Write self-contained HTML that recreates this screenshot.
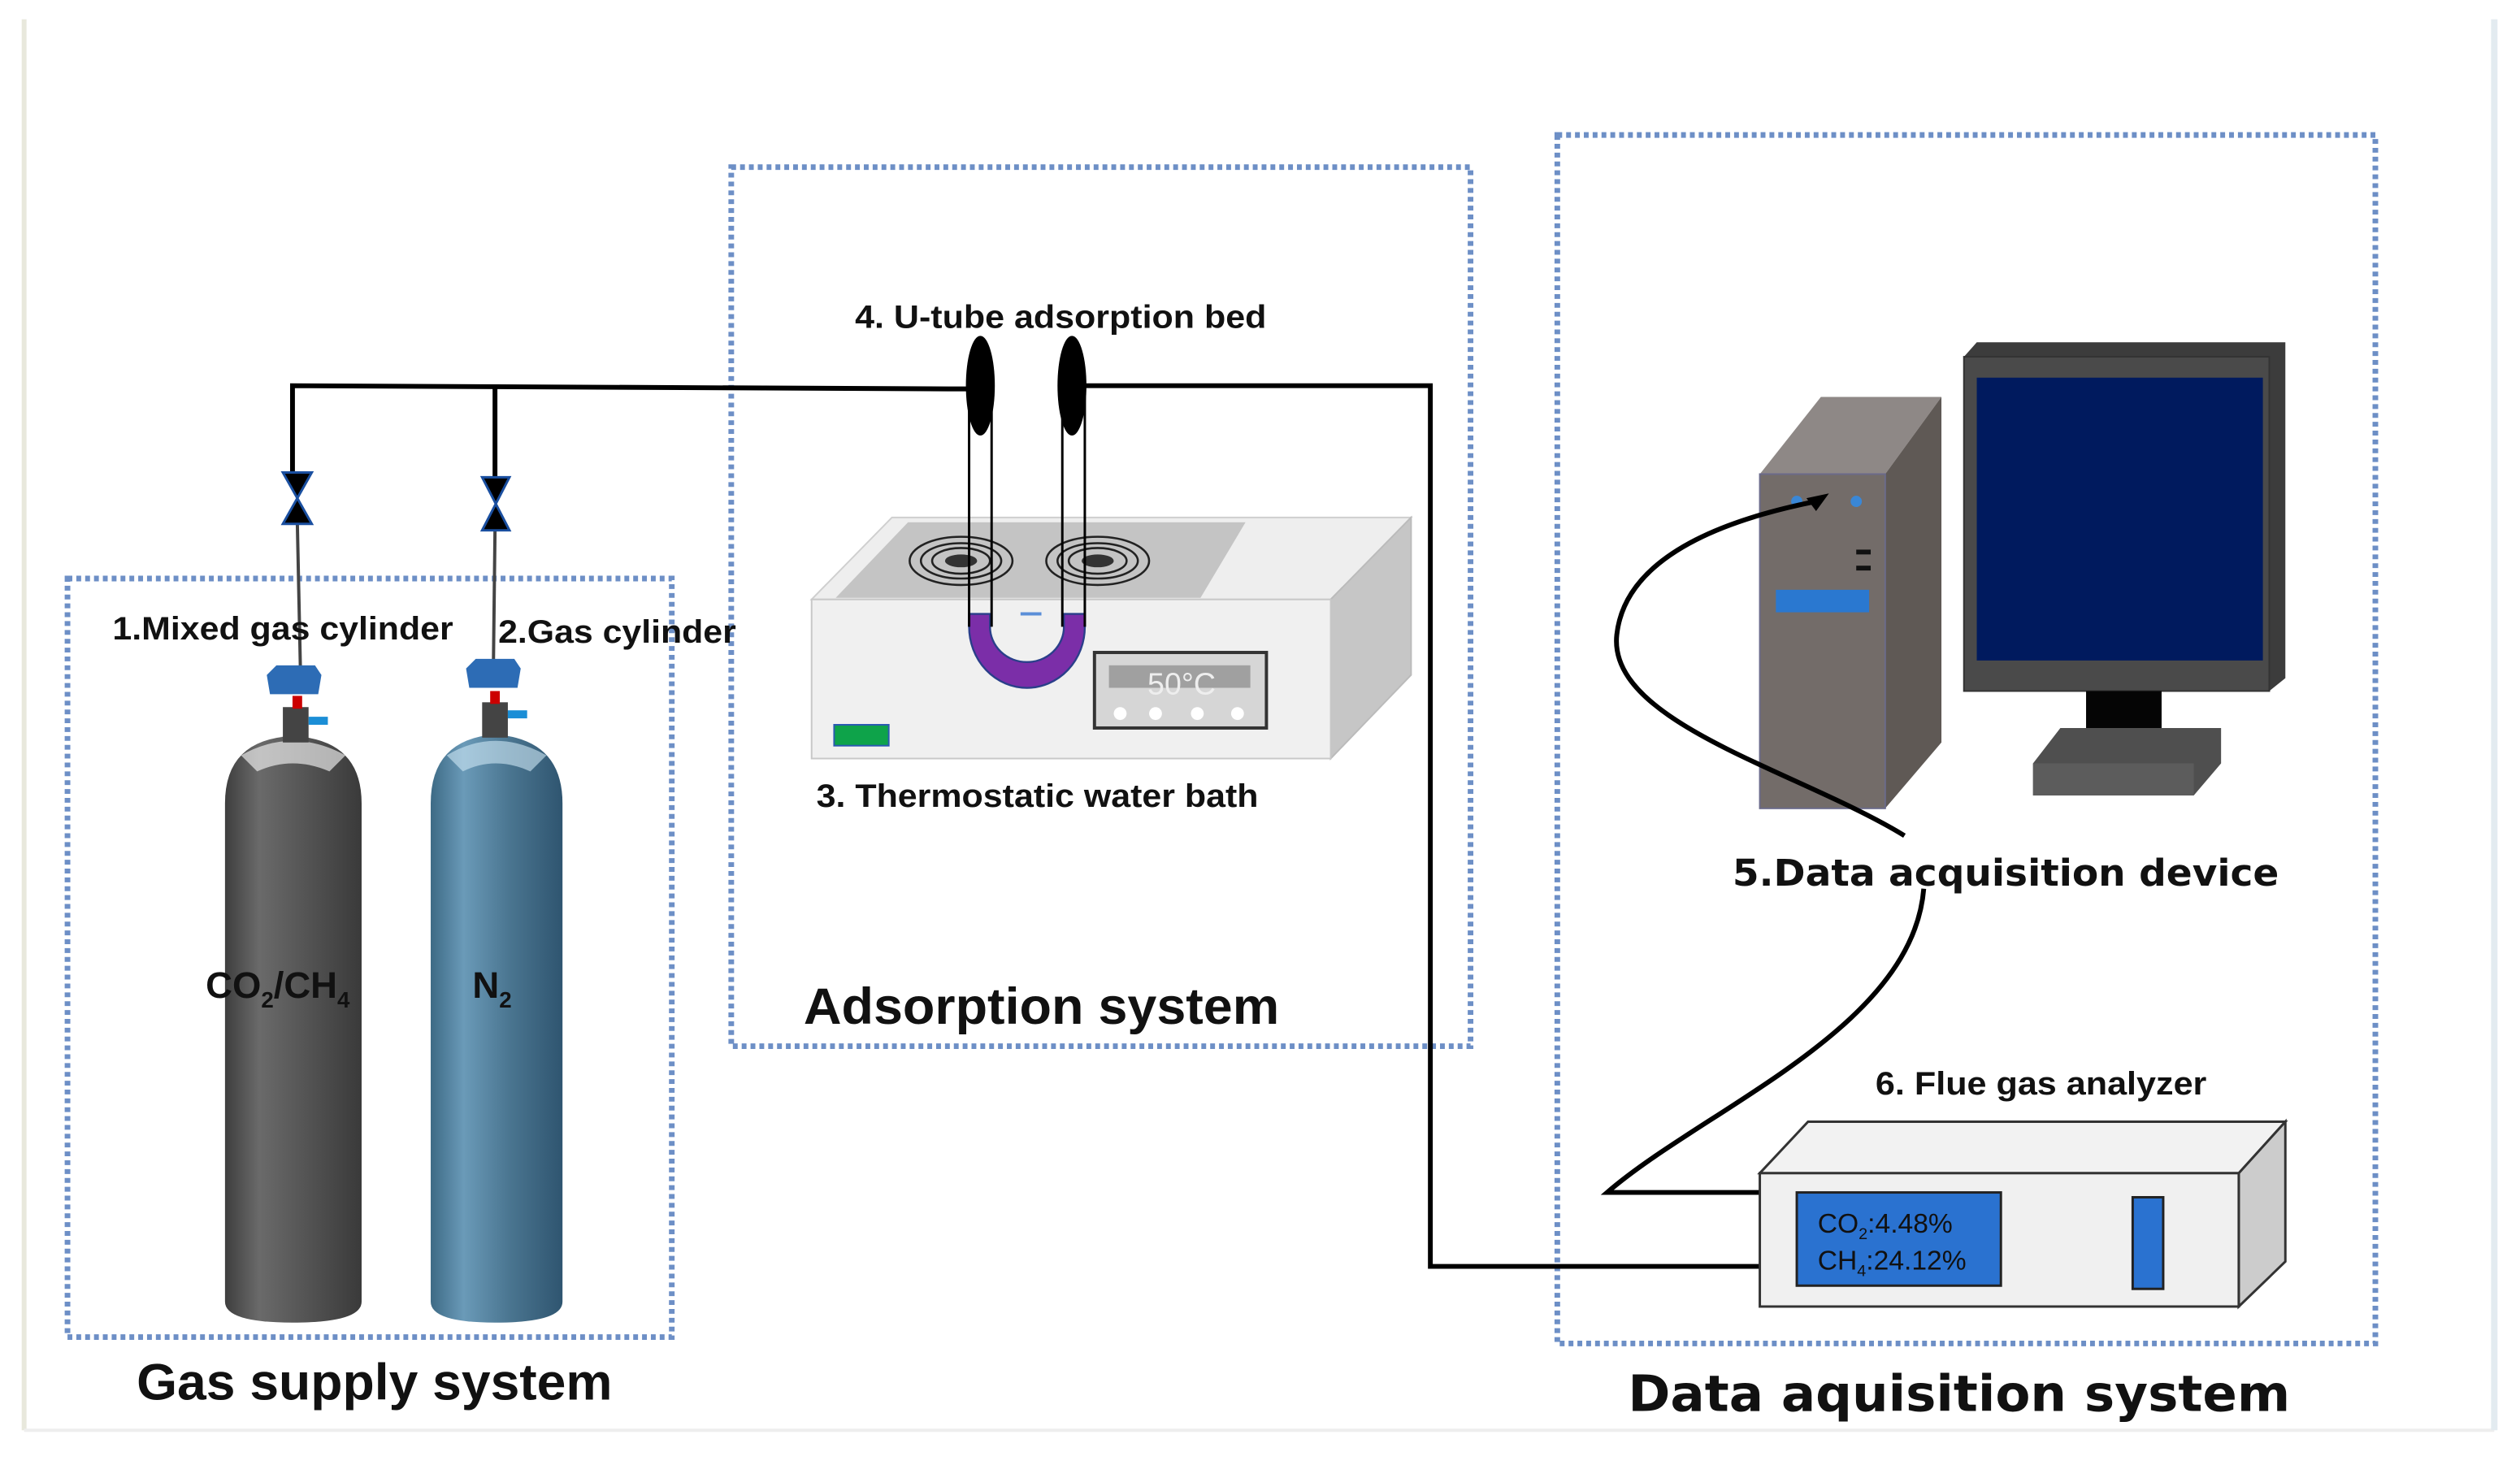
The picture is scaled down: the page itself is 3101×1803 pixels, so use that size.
<!DOCTYPE html>
<html><head><meta charset="utf-8"><style>
html,body{margin:0;padding:0;background:#fff;width:3101px;height:1803px;overflow:hidden}
svg{display:block}
text{font-family:"Liberation Sans",sans-serif;font-weight:bold;fill:#111}
.dj{font-family:"DejaVu Sans","Liberation Sans",sans-serif}
</style></head><body>
<svg width="3101" height="1803" viewBox="0 0 1568 911.6" preserveAspectRatio="none" xmlns="http://www.w3.org/2000/svg">
<defs>
<linearGradient id="g1" x1="0" x2="1" y1="0" y2="0">
<stop offset="0" stop-color="#3e3e3e"/><stop offset="0.25" stop-color="#6a6a6a"/><stop offset="0.5" stop-color="#5a5a5a"/><stop offset="1" stop-color="#3a3a3a"/></linearGradient>
<linearGradient id="g2" x1="0" x2="1" y1="0" y2="0">
<stop offset="0" stop-color="#3d6a85"/><stop offset="0.25" stop-color="#6a9ab8"/><stop offset="0.6" stop-color="#4a7590"/><stop offset="1" stop-color="#2f5570"/></linearGradient>
</defs>
<rect width="1568" height="912" fill="#fff"/>
<line x1="15" y1="12" x2="15" y2="890" stroke="#e8e8dc" stroke-width="3"/>
<line x1="15" y1="890" x2="1552" y2="890" stroke="#eeeeee" stroke-width="2"/>
<line x1="1552" y1="12" x2="1552" y2="890" stroke="#e3ebf0" stroke-width="4"/>
<g fill="none" stroke="#6d8fc6" stroke-width="3.5" stroke-dasharray="3 2.5">
<rect x="42" y="360" width="376" height="472"/>
<rect x="455" y="104" width="460" height="547"/>
<rect x="969" y="84" width="509" height="752"/>
</g>
<g fill="none" stroke="#000" stroke-width="3">
<polyline points="182,298 182,240 590,242 606,242"/>
<line x1="308" y1="298" x2="308" y2="240"/>
<polyline points="672,240 890,240 890,788 1095,788"/>
</g>
<line x1="185" y1="325" x2="187" y2="420" stroke="#444" stroke-width="2"/>
<line x1="308" y1="330" x2="307" y2="415" stroke="#444" stroke-width="2"/>
<g fill="#000" stroke="#1a4fa0" stroke-width="1.5">
<polygon points="176,294 194,294 176,326 194,326"/>
<polygon points="300,297 317,297 300,330 317,330"/>
</g>
<path d="M140,500 Q140,460 182,458 Q225,460 225,500 L225,810 Q225,823 182,823 Q140,823 140,810Z" fill="url(#g1)"/>
<path d="M150,470 Q182,452 215,470 L205,480 Q182,470 160,480Z" fill="#fff" opacity="0.6"/>
<path d="M268,500 Q268,460 308,457 Q350,460 350,500 L350,810 Q350,823 308,823 Q268,823 268,810Z" fill="url(#g2)"/>
<path d="M278,470 Q308,452 340,470 L330,480 Q308,470 288,480Z" fill="#cfe8f5" opacity="0.6"/>
<g>
<rect x="176" y="440" width="16" height="22" fill="#444"/><rect x="192" y="446" width="12" height="5" fill="#1b8ed6"/>
<rect x="182" y="433" width="6" height="8" fill="#c00"/>
<path d="M166,420 L172,414 L196,414 L200,420 L198,432 L168,432Z" fill="#2d6cb5"/>
<rect x="300" y="437" width="16" height="22" fill="#444"/><rect x="316" y="442" width="12" height="5" fill="#1b8ed6"/>
<rect x="305" y="430" width="6" height="8" fill="#c00"/>
<path d="M290,416 L296,410 L320,410 L324,416 L322,428 L292,428Z" fill="#2d6cb5"/>
</g>
<text x="70" y="398" font-size="20" textLength="212" lengthAdjust="spacingAndGlyphs">1.Mixed gas cylinder</text>
<text x="310" y="400" font-size="20" textLength="148" lengthAdjust="spacingAndGlyphs">2.Gas cylinder</text>
<text x="128" y="621" font-size="23">CO<tspan font-size="14" dy="6">2</tspan><tspan dy="-6">/CH</tspan><tspan font-size="14" dy="6">4</tspan></text>
<text x="294" y="621" font-size="23">N<tspan font-size="14" dy="6">2</tspan></text>
<text x="85" y="871" font-size="32" textLength="296" lengthAdjust="spacingAndGlyphs">Gas supply system</text>
<polygon points="505,373 555,322 878,322 828,373" fill="#eeeeee" stroke="#cfcfcf"/>
<polygon points="520,372 565,325 775,325 747,372" fill="#c4c4c4"/>
<polygon points="828,373 878,322 878,420 828,472" fill="#c6c6c6" stroke="#bbb"/>
<rect x="505" y="373" width="323" height="99" fill="#f0f0f0" stroke="#c8c8c8"/>
<g fill="none" stroke="#222" stroke-width="1.3">
<ellipse cx="598" cy="349" rx="32" ry="15"/><ellipse cx="598" cy="349" rx="25" ry="11"/><ellipse cx="598" cy="349" rx="18" ry="8"/>
<ellipse cx="683" cy="349" rx="32" ry="15"/><ellipse cx="683" cy="349" rx="25" ry="11"/><ellipse cx="683" cy="349" rx="18" ry="8"/>
</g>
<ellipse cx="598" cy="349" rx="10" ry="4" fill="#333"/><ellipse cx="683" cy="349" rx="10" ry="4" fill="#333"/>
<rect x="681" y="406" width="107" height="47" fill="#d6d6d6" stroke="#333" stroke-width="2"/>
<rect x="690" y="414" width="88" height="14" fill="#a0a0a0"/>
<text x="714" y="432" font-size="19" style="fill:#eee;font-weight:normal">50°C</text>
<g fill="#fff"><circle cx="697" cy="444" r="4"/><circle cx="719" cy="444" r="4"/><circle cx="745" cy="444" r="4"/><circle cx="770" cy="444" r="4"/></g>
<rect x="519" y="451" width="34" height="13" fill="#0ea34a" stroke="#2a5ab0"/>
<path d="M603,382 L603,390 A36,38 0 0 0 675,390 L675,382 L662,382 L662,390 A23,22 0 0 1 616,390 L616,382Z" fill="#7b2ea8" stroke="#2a3f8a" stroke-width="1.2"/>
<g stroke="#000" stroke-width="1.5" fill="none">
<line x1="603" y1="240" x2="603" y2="390"/><line x1="617" y1="240" x2="617" y2="390"/>
<line x1="661" y1="240" x2="661" y2="390"/><line x1="675" y1="240" x2="675" y2="390"/>
</g>
<line x1="635" y1="382" x2="648" y2="382" stroke="#5b8fd8" stroke-width="2"/>
<ellipse cx="610" cy="240" rx="9" ry="31" fill="#000"/>
<ellipse cx="667" cy="240" rx="9" ry="31" fill="#000"/>
<text x="532" y="204" font-size="20" textLength="256" lengthAdjust="spacingAndGlyphs">4. U-tube adsorption bed</text>
<text x="508" y="502" font-size="20" textLength="275" lengthAdjust="spacingAndGlyphs">3. Thermostatic water bath</text>
<text x="500" y="637" font-size="32" textLength="296" lengthAdjust="spacingAndGlyphs">Adsorption system</text>
<polygon points="1095,295 1133,247 1208,247 1173,295" fill="#8e8886"/>
<polygon points="1173,295 1208,247 1208,462 1173,503" fill="#5f5955"/>
<rect x="1095" y="295" width="78" height="208" fill="#736c69" stroke="#6b6b8a"/>
<circle cx="1118" cy="312" r="3.5" fill="#3a87d6"/><circle cx="1155" cy="312" r="3.5" fill="#3a87d6"/>
<rect x="1155" y="342" width="9" height="3" fill="#111"/><rect x="1155" y="352" width="9" height="3" fill="#111"/>
<rect x="1105" y="367" width="58" height="14" fill="#2a78d0"/>
<polygon points="1222,222 1230,213 1422,213 1422,422 1412,430 1222,430" fill="#3c3c3c"/>
<rect x="1222" y="222" width="190" height="208" fill="#4a4a4a" stroke="#333"/>
<rect x="1230" y="235" width="178" height="176" fill="#001a5e"/>
<rect x="1298" y="430" width="47" height="38" fill="#050505"/>
<polygon points="1265,475 1282,453 1382,453 1382,475 1365,495 1265,495" fill="#4f4f4f"/>
<rect x="1265" y="475" width="100" height="20" fill="#5c5c5c"/>
<g fill="none" stroke="#000" stroke-width="3">
<path d="M1185,520 C1120,480 1000,450 1006,395 C1012,340 1090,320 1130,312"/>
<path d="M1197,553 C1190,640 1060,690 1000,742 L1095,742"/>
</g>
<polygon points="1138,307 1124,310 1130,318" fill="#000"/>
<text x="1078" y="551" font-size="23" class="dj" textLength="340" lengthAdjust="spacingAndGlyphs">5.Data acquisition device</text>
<polygon points="1095,730 1125,698 1422,698 1393,730" fill="#f2f2f2" stroke="#333" stroke-width="1.5"/>
<polygon points="1393,730 1422,698 1422,785 1393,813" fill="#cccccc" stroke="#333" stroke-width="1.5"/>
<rect x="1095" y="730" width="298" height="83" fill="#f0f0f0" stroke="#333" stroke-width="1.5"/>
<rect x="1118" y="742" width="127" height="58" fill="#2a72d0" stroke="#222" stroke-width="1.5"/>
<text x="1131" y="767" font-size="17" style="font-weight:normal">CO<tspan font-size="10" dy="4">2</tspan><tspan dy="-4">:4.48%</tspan></text>
<text x="1131" y="790" font-size="17" style="font-weight:normal">CH<tspan font-size="10" dy="4">4</tspan><tspan dy="-4">:24.12%</tspan></text>
<rect x="1327" y="745" width="19" height="57" fill="#2a72d0" stroke="#222" stroke-width="1.5"/>
<text x="1167" y="681" font-size="20" textLength="206" lengthAdjust="spacingAndGlyphs">6. Flue gas analyzer</text>
<text x="1013" y="878" font-size="31" class="dj" textLength="412" lengthAdjust="spacingAndGlyphs">Data aquisition system</text>
</svg>
</body></html>
